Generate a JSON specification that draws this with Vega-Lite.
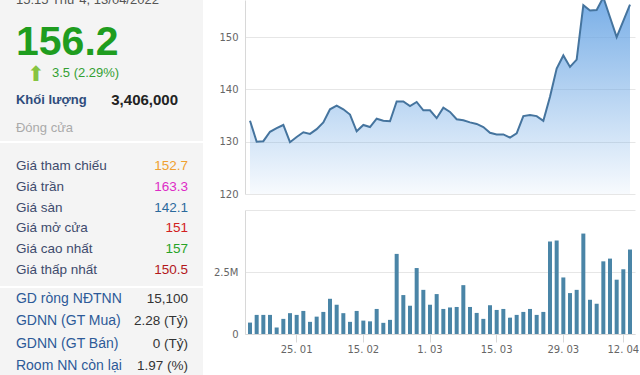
{
  "$schema": "https://vega.github.io/schema/vega-lite/v6.json",
  "padding": 0,
  "background": "white",
  "bounds": "flush",
  "spacing": 245,
  "config": {"view": {"stroke": null}, "font": "Liberation Sans"},
  "datasets": {
    "stock": [
      {"d": "2022-01-14", "p": 134.0, "v": 460000},
      {"d": "2022-01-17", "p": 130.0, "v": 770000},
      {"d": "2022-01-18", "p": 130.1, "v": 770000},
      {"d": "2022-01-19", "p": 131.9, "v": 770000},
      {"d": "2022-01-20", "p": 132.6, "v": 260000},
      {"d": "2022-01-21", "p": 133.2, "v": 610000},
      {"d": "2022-01-24", "p": 129.9, "v": 840000},
      {"d": "2022-01-25", "p": 130.9, "v": 770000},
      {"d": "2022-01-26", "p": 131.8, "v": 930000},
      {"d": "2022-01-27", "p": 131.5, "v": 490000},
      {"d": "2022-01-28", "p": 132.4, "v": 700000},
      {"d": "2022-02-07", "p": 133.7, "v": 890000},
      {"d": "2022-02-08", "p": 136.2, "v": 1420000},
      {"d": "2022-02-09", "p": 136.9, "v": 1180000},
      {"d": "2022-02-10", "p": 136.2, "v": 840000},
      {"d": "2022-02-11", "p": 135.2, "v": 490000},
      {"d": "2022-02-14", "p": 132.0, "v": 930000},
      {"d": "2022-02-15", "p": 133.2, "v": 540000},
      {"d": "2022-02-16", "p": 132.8, "v": 510000},
      {"d": "2022-02-17", "p": 134.4, "v": 1010000},
      {"d": "2022-02-18", "p": 134.0, "v": 450000},
      {"d": "2022-02-21", "p": 133.9, "v": 570000},
      {"d": "2022-02-22", "p": 137.7, "v": 3230000},
      {"d": "2022-02-23", "p": 137.7, "v": 1570000},
      {"d": "2022-02-24", "p": 136.8, "v": 1140000},
      {"d": "2022-02-25", "p": 137.6, "v": 2660000},
      {"d": "2022-02-28", "p": 136.0, "v": 1780000},
      {"d": "2022-03-01", "p": 136.0, "v": 1180000},
      {"d": "2022-03-02", "p": 134.5, "v": 1610000},
      {"d": "2022-03-03", "p": 136.5, "v": 1010000},
      {"d": "2022-03-04", "p": 135.7, "v": 1070000},
      {"d": "2022-03-07", "p": 134.3, "v": 1090000},
      {"d": "2022-03-08", "p": 134.1, "v": 1970000},
      {"d": "2022-03-09", "p": 133.7, "v": 1090000},
      {"d": "2022-03-10", "p": 133.4, "v": 850000},
      {"d": "2022-03-11", "p": 132.8, "v": 610000},
      {"d": "2022-03-14", "p": 131.7, "v": 1160000},
      {"d": "2022-03-15", "p": 131.4, "v": 970000},
      {"d": "2022-03-16", "p": 131.4, "v": 1010000},
      {"d": "2022-03-17", "p": 130.8, "v": 660000},
      {"d": "2022-03-18", "p": 131.6, "v": 770000},
      {"d": "2022-03-21", "p": 134.9, "v": 890000},
      {"d": "2022-03-22", "p": 135.1, "v": 1010000},
      {"d": "2022-03-23", "p": 134.9, "v": 770000},
      {"d": "2022-03-24", "p": 134.0, "v": 890000},
      {"d": "2022-03-25", "p": 138.6, "v": 3730000},
      {"d": "2022-03-28", "p": 144.0, "v": 3770000},
      {"d": "2022-03-29", "p": 146.5, "v": 2280000},
      {"d": "2022-03-30", "p": 144.3, "v": 1650000},
      {"d": "2022-03-31", "p": 145.7, "v": 1780000},
      {"d": "2022-04-01", "p": 156.1, "v": 4050000},
      {"d": "2022-04-04", "p": 155.1, "v": 1380000},
      {"d": "2022-04-05", "p": 155.2, "v": 1220000},
      {"d": "2022-04-06", "p": 157.6, "v": 2930000},
      {"d": "2022-04-07", "p": 153.8, "v": 3040000},
      {"d": "2022-04-08", "p": 150.0, "v": 2190000},
      {"d": "2022-04-12", "p": 153.1, "v": 2610000},
      {"d": "2022-04-13", "p": 156.2, "v": 3406000}
    ]
  },
  "resolve": {"scale": {"x": "independent", "y": "independent", "color": "independent"}},
  "hconcat": [
    {
      "vconcat": [
        {
          "width": 203,
          "height": 141,
          "view": {"fill": "#f4f4f4", "stroke": null},
          "layer": [
            {
              "data": {"values": [{"row": "header", "t": "15:15 Thứ 4, 13/04/2022"}]},
              "mark": {"type": "text", "align": "left", "baseline": "middle", "fontSize": 13, "color": "#555555", "dy": -12.5, "clip": true},
              "encoding": {
                "x": {"datum": "l", "type": "nominal", "scale": {"type": "point", "domain": ["l", "r"], "padding": 0.09, "align": 0.516}, "axis": null},
                "y": {"field": "row", "type": "nominal", "scale": {"type": "point", "domain": ["header", "price", "change", "volume", "close"], "padding": 0.474, "align": 0.463}, "axis": null},
                "text": {"field": "t"}
              }
            },
            {
              "data": {"values": [{"row": "price", "t": "156.2"}]},
              "mark": {"type": "text", "align": "left", "baseline": "middle", "fontSize": 41, "fontWeight": "bold", "color": "#1f9d1f", "dy": 2},
              "encoding": {
                "x": {"datum": "l", "type": "nominal"},
                "y": {"field": "row", "type": "nominal"},
                "text": {"field": "t"}
              }
            },
            {
              "data": {"values": [{"row": "change", "t": "⬆"}]},
              "mark": {"type": "text", "align": "center", "baseline": "middle", "font": "DejaVu Sans", "fontSize": 21, "color": "#86c440", "dx": 20, "dy": 5},
              "encoding": {
                "x": {"datum": "l", "type": "nominal"},
                "y": {"field": "row", "type": "nominal"},
                "text": {"field": "t"}
              }
            },
            {
              "data": {"values": [{"row": "change", "t": "3.5 (2.29%)"}]},
              "mark": {"type": "text", "align": "left", "baseline": "middle", "fontSize": 13, "color": "#33a033", "dx": 36, "dy": 3},
              "encoding": {
                "x": {"datum": "l", "type": "nominal"},
                "y": {"field": "row", "type": "nominal"},
                "text": {"field": "t"}
              }
            },
            {
              "data": {"values": [{"row": "volume", "t": "Khối lượng"}]},
              "mark": {"type": "text", "align": "left", "baseline": "middle", "fontSize": 13, "fontWeight": "bold", "color": "#2f4c7c", "dy": 2},
              "encoding": {
                "x": {"datum": "l", "type": "nominal"},
                "y": {"field": "row", "type": "nominal"},
                "text": {"field": "t"}
              }
            },
            {
              "data": {"values": [{"row": "volume", "t": "3,406,000"}]},
              "mark": {"type": "text", "align": "right", "baseline": "middle", "fontSize": 15, "fontWeight": "bold", "color": "#222222", "dx": -10, "dy": 2},
              "encoding": {
                "x": {"datum": "r", "type": "nominal"},
                "y": {"field": "row", "type": "nominal"},
                "text": {"field": "t"}
              }
            },
            {
              "data": {"values": [{"row": "close", "t": "Đóng cửa"}]},
              "mark": {"type": "text", "align": "left", "baseline": "middle", "fontSize": 13, "color": "#aaaaaa", "dy": 1.5},
              "encoding": {
                "x": {"datum": "l", "type": "nominal"},
                "y": {"field": "row", "type": "nominal"},
                "text": {"field": "t"}
              }
            }
          ]
        },
        {
          "width": 203,
          "height": 143,
          "view": {"fill": "#f4f4f4", "stroke": null},
          "data": {"values": [
            {"label": "Giá tham chiếu", "value": "152.7"},
            {"label": "Giá trần", "value": "163.3"},
            {"label": "Giá sàn", "value": "142.1"},
            {"label": "Giá mở cửa", "value": "151"},
            {"label": "Giá cao nhất", "value": "157"},
            {"label": "Giá thấp nhất", "value": "150.5"}
          ]},
          "encoding": {
            "y": {"field": "label", "type": "nominal", "sort": null, "scale": {"type": "point", "padding": 0.954, "align": 0.565}, "axis": null}
          },
          "layer": [
            {
              "mark": {"type": "text", "align": "left", "baseline": "middle", "fontSize": 13.5, "color": "#3e4b6d", "dy": 1},
              "encoding": {
                "x": {"datum": "l", "type": "nominal", "scale": {"type": "point", "domain": ["l", "r"], "padding": 0.09, "align": 0.516}, "axis": null},
                "text": {"field": "label"}
              }
            },
            {
              "mark": {"type": "text", "align": "right", "baseline": "middle", "fontSize": 13.5, "dy": 1},
              "encoding": {
                "x": {"datum": "r", "type": "nominal"},
                "text": {"field": "value"},
                "color": {"field": "label", "type": "nominal", "scale": {"domain": ["Giá tham chiếu", "Giá trần", "Giá sàn", "Giá mở cửa", "Giá cao nhất", "Giá thấp nhất"], "range": ["#f0a030", "#dd2bc6", "#2b6a9c", "#d22020", "#27a327", "#b3171b"]}, "legend": null}
              }
            }
          ]
        },
        {
          "width": 203,
          "height": 87,
          "view": {"fill": "#f4f4f4", "stroke": null},
          "data": {"values": [
            {"label": "GD ròng NĐTNN", "value": "15,100"},
            {"label": "GDNN (GT Mua)", "value": "2.28 (Tỷ)"},
            {"label": "GDNN (GT Bán)", "value": "0 (Tỷ)"},
            {"label": "Room NN còn lại", "value": "1.97 (%)"}
          ]},
          "encoding": {
            "y": {"field": "label", "type": "nominal", "sort": null, "scale": {"type": "point", "padding": 0.45, "align": 0.5}, "axis": null}
          },
          "layer": [
            {
              "mark": {"type": "text", "align": "left", "baseline": "middle", "fontSize": 14, "color": "#2d5a98", "dy": 1},
              "encoding": {
                "x": {"datum": "l", "type": "nominal", "scale": {"type": "point", "domain": ["l", "r"], "padding": 0.09, "align": 0.516}, "axis": null},
                "text": {"field": "label"}
              }
            },
            {
              "mark": {"type": "text", "align": "right", "baseline": "middle", "fontSize": 13.5, "color": "#333333", "dy": 1},
              "encoding": {
                "x": {"datum": "r", "type": "nominal"},
                "text": {"field": "value"}
              }
            }
          ]
        }
      ],
      "spacing": 2,
      "bounds": "flush",
      "resolve": {"scale": {"x": "independent", "y": "independent", "color": "independent"}}
    },
    {
      "vconcat": [
        {
          "width": 390,
          "height": 194,
          "data": {"name": "stock"},
          "encoding": {
            "x": {"field": "d", "type": "ordinal", "scale": {"type": "band", "paddingInner": 0.4, "paddingOuter": 0.45}, "axis": null},
            "y": {"field": "p", "type": "quantitative", "scale": {"domain": [120, 157.1], "nice": false, "zero": false}, "axis": {"values": [120, 130, 140, 150], "title": null, "grid": true, "gridColor": "#e6e6e6", "domainColor": "#d8d8d8", "ticks": false, "tickSize": 0, "labelPadding": 7, "labelFont": "DejaVu Sans", "labelFontSize": 10, "labelColor": "#666666"}}
          },
          "layer": [
            {
              "mark": {"type": "area", "clip": true, "color": {"gradient": "linear", "x1": 0, "y1": 0, "x2": 0, "y2": 1, "stops": [{"offset": 0, "color": "rgba(105,165,228,0.9)"}, {"offset": 1, "color": "rgba(105,165,228,0.05)"}]}},
              "encoding": {"y2": {"datum": 120}}
            },
            {
              "mark": {"type": "line", "clip": true, "color": "#45749e", "strokeWidth": 2}
            }
          ]
        },
        {
          "width": 390,
          "height": 124,
          "data": {"name": "stock"},
          "mark": {"type": "bar", "color": "#4a85a7"},
          "encoding": {
            "x": {"field": "d", "type": "ordinal", "scale": {"type": "band", "paddingInner": 0.4, "paddingOuter": 0.45}, "axis": {"values": ["2022-01-25", "2022-02-15", "2022-03-01", "2022-03-15", "2022-03-29", "2022-04-12"], "labelExpr": "utcFormat(toDate(datum.value), '%e. %m')", "labelAngle": 0, "title": null, "tickSize": 8, "tickColor": "#d8d8d8", "domainColor": "#d8d8d8", "labelPadding": 2, "labelFont": "DejaVu Sans", "labelFontSize": 10, "labelColor": "#666666"}},
            "y": {"field": "v", "type": "quantitative", "scale": {"domain": [0, 5000000], "nice": false}, "axis": {"values": [0, 2500000, 5000000], "labelExpr": "datum.value == 0 ? '0' : (datum.value == 2500000 ? '2.5M' : '')", "title": null, "grid": true, "gridColor": "#e6e6e6", "domainColor": "#d8d8d8", "ticks": false, "tickSize": 0, "labelPadding": 7, "labelFont": "DejaVu Sans", "labelFontSize": 10, "labelColor": "#666666"}}
          }
        }
      ],
      "spacing": 16,
      "bounds": "flush",
      "resolve": {"scale": {"x": "independent", "y": "independent"}}
    }
  ]
}
